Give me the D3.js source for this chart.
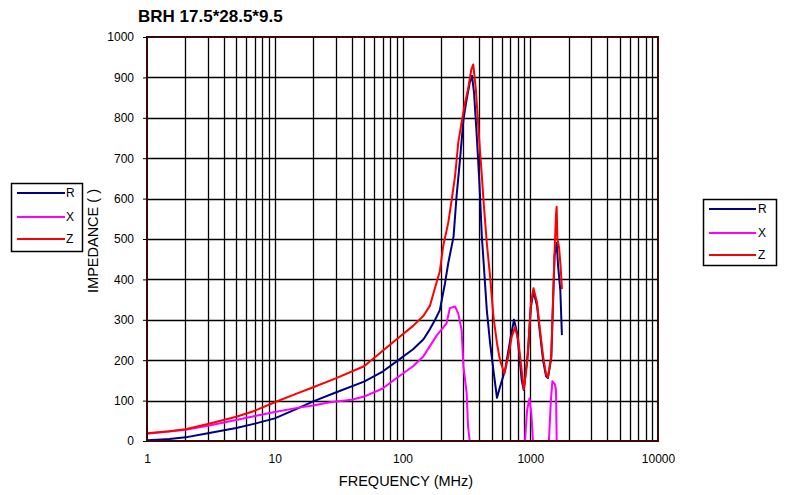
<!DOCTYPE html>
<html>
<head>
<meta charset="utf-8">
<script src="https://cdn.jsdelivr.net/npm/d3@7"></script>
<style>
  html, body { margin: 0; padding: 0; background: #fff; }
  svg { display: block; font-family: "Liberation Sans", Arial, sans-serif; }
</style>
</head>
<body>
<svg id="chart" width="788" height="495"></svg>
<script>
// ---- Data ----
const chartTitle = "BRH 17.5*28.5*9.5";
const xAxisTitle = "FREQUENCY (MHz)";
const yAxisTitle = "IMPEDANCE (  )";
const seriesNames = ["R", "X", "Z"];
const seriesColors = ["#000080", "#FF00FF", "#FF0000"];

const xTickValues = [1, 10, 100, 1000, 10000];
const yTickValues = [0, 100, 200, 300, 400, 500, 600, 700, 800, 900, 1000];

// R (resistance), MHz / ohm
const freqR = [1, 1.3, 1.5, 2, 3, 5, 7, 10, 15, 20, 30, 50, 70, 90, 121, 146, 164, 180, 196, 215, 228, 251, 265, 282, 300, 318, 336, 350, 363, 380, 400, 418, 432, 457, 485, 515, 549, 580, 635, 697, 746, 790, 857, 890, 963, 1010, 1060, 1130, 1190, 1260, 1330, 1375, 1460, 1550, 1610, 1650, 1720, 1770];
const rValues = [2, 4, 5, 9, 19, 32, 43, 56, 80, 98, 120, 147, 172, 197, 227, 252, 277, 300, 324, 390, 440, 506, 606, 697, 796, 846, 887, 904, 862, 763, 639, 506, 440, 324, 242, 175, 107, 134, 175, 250, 300, 267, 151, 126, 225, 330, 370, 335, 268, 200, 160, 156, 205, 460, 490, 435, 372, 262];

// X (reactance), MHz / ohm
const freqX = [1, 2, 3, 5, 7, 10, 15, 20, 27, 40, 50, 70, 90, 121, 146, 186, 196, 221, 235, 258, 273, 290, 300, 318, 326, 336, 910, 945, 985, 1020, 1050, 1400, 1450, 1490, 1560, 1590, 1610];
const xValues = [18, 28, 38, 52, 62, 72, 82, 88, 96, 102, 110, 130, 156, 185, 210, 262, 271, 291, 329, 333, 316, 275, 184, 118, 35, 0, 0, 76, 105, 68, 0, 0, 100, 148, 140, 127, 0];

// Z (impedance), MHz / ohm
const freqZ = [1, 1.5, 2, 3, 5, 7, 10, 15, 20, 30, 50, 90, 121, 146, 164, 180, 196, 208, 228, 243, 258, 273, 290, 309, 326, 346, 358, 375, 400, 418, 432, 457, 485, 515, 549, 580, 627, 673, 716, 760, 806, 857, 890, 945, 1013, 1060, 1130, 1190, 1260, 1330, 1375, 1460, 1550, 1590, 1610, 1630, 1680, 1730, 1770];
const zValues = [19, 24, 29, 42, 60, 75, 96, 118, 133, 155, 185, 252, 285, 310, 335, 380, 420, 482, 540, 598, 656, 738, 788, 838, 871, 920, 932, 871, 738, 656, 589, 490, 407, 308, 242, 200, 167, 209, 258, 281, 250, 175, 128, 192, 341, 378, 343, 277, 210, 165, 158, 210, 468, 560, 580, 500, 480, 430, 376];

// ---- Layout ----
const plot = { left: 147, right: 658, top: 37, bottom: 441 };

const svg = d3.select("#chart");

const x = d3.scaleLog().domain([1, 10000]).range([plot.left, plot.right]);
const y = d3.scaleLinear().domain([0, 1000]).range([plot.bottom, plot.top]);

const crisp = v => Math.round(v) + 0.5;

// Grid: vertical lines at 1..9 x each decade
const gridX = [];
for (let d = 1; d < 10000; d *= 10) {
  for (let m = 1; m <= 9; m++) gridX.push(d * m);
}
const g = svg.append("g");
g.selectAll("line.vx").data(gridX.filter(v => v > 1)).enter().append("line")
  .attr("x1", d => crisp(x(d))).attr("x2", d => crisp(x(d)))
  .attr("y1", plot.top).attr("y2", plot.bottom)
  .attr("stroke", "#000").attr("stroke-width", 1.3);
g.selectAll("line.hy").data(yTickValues.filter(v => v > 0 && v < 1000)).enter().append("line")
  .attr("x1", plot.left).attr("x2", plot.right)
  .attr("y1", d => crisp(y(d))).attr("y2", d => crisp(y(d)))
  .attr("stroke", "#000").attr("stroke-width", 1.3);

// Series lines
const series = [
  { name: seriesNames[0], color: seriesColors[0], f: freqR, v: rValues },
  { name: seriesNames[1], color: seriesColors[1], f: freqX, v: xValues },
  { name: seriesNames[2], color: seriesColors[2], f: freqZ, v: zValues }
];
const line = d3.line().x(d => x(d[0])).y(d => y(d[1]));
svg.append("g").selectAll("path").data(series).enter().append("path")
  .attr("d", s => line(s.f.map((f, i) => [f, s.v[i]])))
  .attr("fill", "none")
  .attr("stroke", s => s.color)
  .attr("stroke-width", 2)
  .attr("stroke-linejoin", "round");

// Plot frame
svg.append("rect")
  .attr("x", plot.left).attr("y", plot.top)
  .attr("width", plot.right - plot.left).attr("height", plot.bottom - plot.top)
  .attr("fill", "none").attr("stroke", "#3a0808").attr("stroke-width", 2);

// Axes
const yAxis = d3.axisLeft(y).tickValues(yTickValues).tickSize(4).tickPadding(9).tickFormat(d3.format("d"));
const yg = svg.append("g").attr("transform", `translate(${plot.left},0)`).call(yAxis);
yg.select(".domain").remove();
yg.selectAll(".tick line").attr("stroke", "#000");
yg.selectAll("text").attr("font-size", 12).attr("fill", "#000").attr("font-family", "Liberation Sans, Arial, sans-serif");

const xAxis = d3.axisBottom(x).tickValues(xTickValues).tickSize(0).tickPadding(13).tickFormat(d3.format("d"));
const xg = svg.append("g").attr("transform", `translate(0,${plot.bottom})`).call(xAxis);
xg.select(".domain").remove();
xg.selectAll("text").attr("font-size", 12).attr("fill", "#000").attr("font-family", "Liberation Sans, Arial, sans-serif");

// Titles
svg.append("text").attr("x", 138).attr("y", 22)
  .attr("font-size", 17).attr("font-weight", "bold").text(chartTitle);
svg.append("text").attr("x", 406).attr("y", 486).attr("text-anchor", "middle")
  .attr("font-size", 14.5).text(xAxisTitle);
svg.append("text").attr("transform", "translate(98,241) rotate(-90)").attr("text-anchor", "middle")
  .attr("font-size", 14.5).text(yAxisTitle);

// Legends
function legend(bx, by, bw, bh, rowY, lx1, lx2, tx) {
  const lg = svg.append("g");
  lg.append("rect").attr("x", bx + 0.5).attr("y", by + 0.5).attr("width", bw).attr("height", bh)
    .attr("fill", "#fff").attr("stroke", "#000").attr("stroke-width", 1.5);
  series.forEach((s, i) => {
    lg.append("line").attr("x1", lx1).attr("x2", lx2).attr("y1", rowY[i]).attr("y2", rowY[i])
      .attr("stroke", s.color).attr("stroke-width", 2);
    lg.append("text").attr("x", tx).attr("y", rowY[i] + 4).attr("font-size", 12).text(s.name);
  });
}
legend(11, 183, 71, 68, [193, 217, 239], 17, 65, 66);
legend(703, 199, 73, 66, [209, 233, 255], 709, 756, 758);
</script>
</body>
</html>
